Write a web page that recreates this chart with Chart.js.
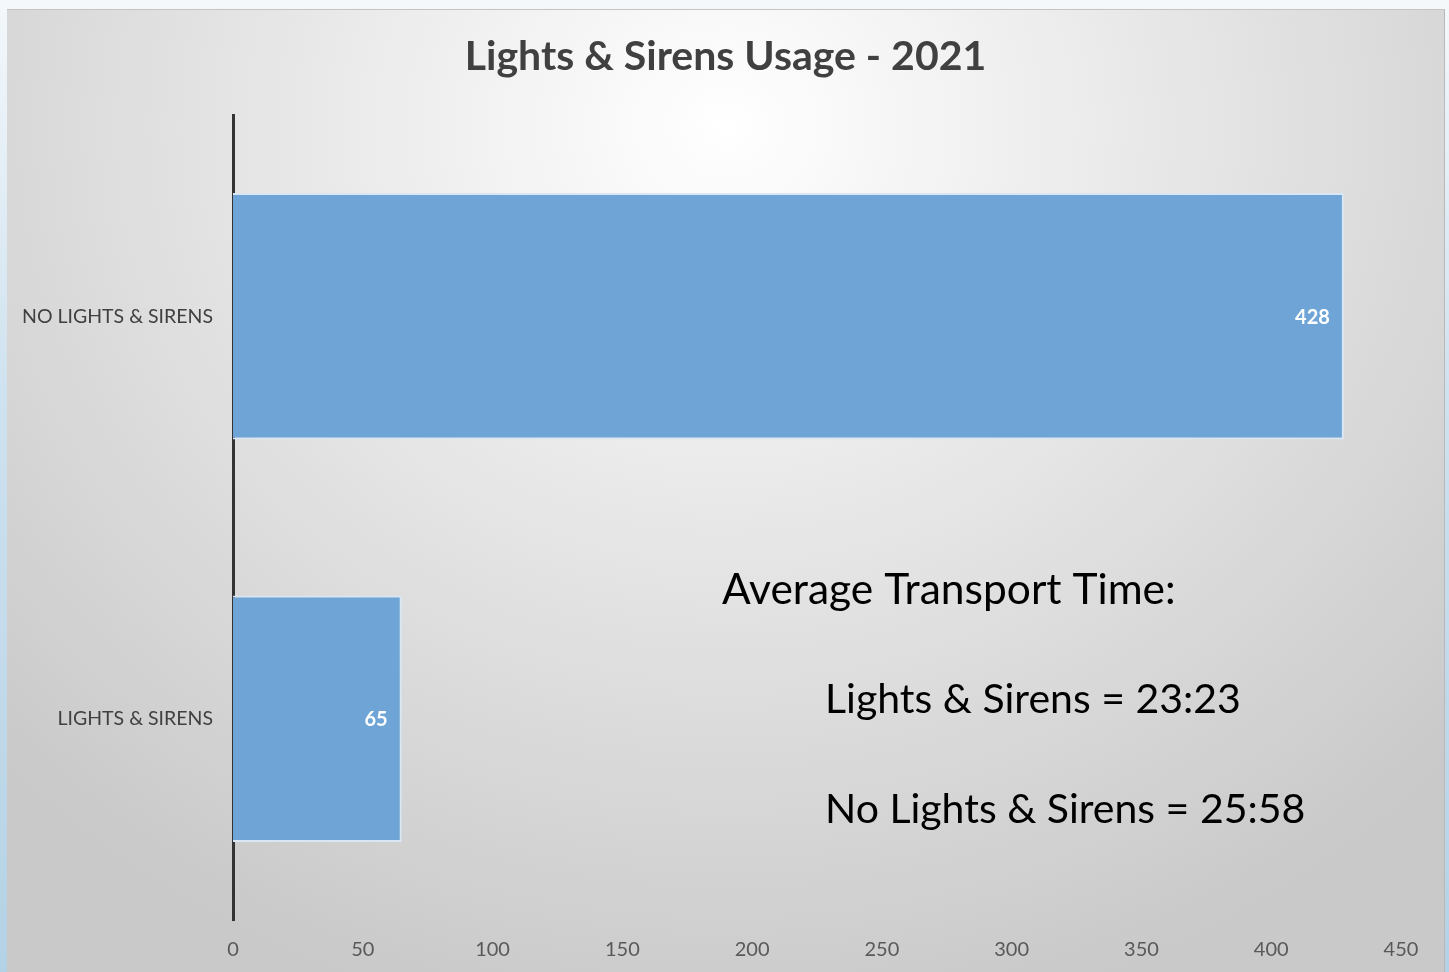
<!DOCTYPE html>
<html>
<head>
<meta charset="utf-8">
<script src="https://cdn.jsdelivr.net/npm/chart.js@4.4.0/dist/chart.umd.min.js"></script>
<style>
  html, body { margin: 0; padding: 0; }
  body {
    width: 1449px; height: 972px; overflow: hidden;
    background: linear-gradient(to bottom, #f4f8fb 0%, #cfe2ef 40%, #b4d2e6 100%);
  }
  #frame {
    position: absolute; left: 7px; top: 9px; width: 1438px; height: 963px;
    background: radial-gradient(ellipse 70% 95% at 50% 12%, #ffffff 0%, #ececec 35%, #d9d9d9 70%, #c9c9c9 100%);
    border-top: 1px solid #c4c4c4;
    border-right: 1px solid #b9b9b9;
    box-sizing: border-box;
  }
</style>
</head>
<body>
<div id="frame"><canvas id="usageChart"></canvas></div>
<script>
// Lights & Sirens usage - horizontal bar
const chartTitle = 'Lights & Sirens Usage - 2021';
const categories = ['NO LIGHTS & SIRENS', 'LIGHTS & SIRENS'];
const transports = [428, 65];
const xTicks = [0, 50, 100, 150, 200, 250, 300, 350, 400, 450];
const noteLines = [
  'Average Transport Time:',
  'Lights & Sirens = 23:23',
  'No Lights & Sirens = 25:58'
];

const fontFamily = 'Lato, "Open Sans", sans-serif';

// title centred on the whole frame (not just the plot area)
const frameTitle = {
  id: 'frameTitle',
  afterDraw(chart) {
    const ctx = chart.ctx;
    ctx.save();
    ctx.fillStyle = '#404040';
    ctx.font = 'bold 41px ' + fontFamily;
    ctx.textAlign = 'center';
    ctx.textBaseline = 'middle';
    ctx.fillText(chartTitle, chart.width / 2, 47);
    ctx.restore();
  }
};

// white value labels at the inner end of each bar
const barLabels = {
  id: 'barLabels',
  afterDatasetsDraw(chart) {
    const ctx = chart.ctx;
    const meta = chart.getDatasetMeta(0);
    ctx.save();
    ctx.fillStyle = '#ffffff';
    ctx.font = 'bold 20px ' + fontFamily;
    ctx.textAlign = 'right';
    ctx.textBaseline = 'middle';
    meta.data.forEach((bar, i) => {
      ctx.fillText(transports[i], bar.x - 14, bar.y + 1);
    });
    ctx.restore();
  }
};

// the average transport time note on the chart
const timeNote = {
  id: 'timeNote',
  afterDraw(chart) {
    const ctx = chart.ctx;
    const area = chart.chartArea;
    ctx.save();
    ctx.fillStyle = '#000000';
    ctx.textAlign = 'left';
    ctx.textBaseline = 'middle';
    ctx.font = '42.5px ' + fontFamily;
    ctx.fillText(noteLines[0], area.left + 489, area.top + 475);
    ctx.font = '41px ' + fontFamily;
    ctx.fillText(noteLines[1], area.left + 592, area.top + 585);
    ctx.fillText(noteLines[2], area.left + 592, area.top + 695);
    ctx.restore();
  }
};

const ctx = document.getElementById('usageChart').getContext('2d');
const usageChart = new Chart(ctx, {
  type: 'bar',
  data: {
    labels: categories,
    datasets: [{
      data: transports,
      backgroundColor: '#6fa4d7',
      borderColor: '#d9e7f4',
      borderWidth: 2,
      borderSkipped: 'start',
      barPercentage: 0.612,
      categoryPercentage: 1
    }]
  },
  options: {
    indexAxis: 'y',
    responsive: true,
    maintainAspectRatio: false,
    animation: false,
    layout: {
      padding: { left: 0, right: 43, top: 105, bottom: 0 }
    },
    plugins: {
      legend: { display: false },
      tooltip: { enabled: false },
      title: { display: false }
    },
    scales: {
      x: {
        min: 0,
        max: 450,
        afterBuildTicks(scale) {
          scale.ticks = xTicks.map(v => ({ value: v }));
        },
        afterFit(scale) {
          scale.height = 52;
        },
        grid: { display: false },
        border: { display: false },
        ticks: {
          color: '#595959',
          font: { family: fontFamily, size: 20 },
          padding: 10,
          maxRotation: 0
        }
      },
      y: {
        grid: { display: false },
        border: { display: true, color: '#333333', width: 3 },
        afterFit(scale) {
          scale.width = 226;
        },
        ticks: {
          color: '#404040',
          font: { family: fontFamily, size: 19.5 },
          padding: 12
        }
      }
    }
  },
  plugins: [barLabels, timeNote, frameTitle]
});
</script>
</body>
</html>
